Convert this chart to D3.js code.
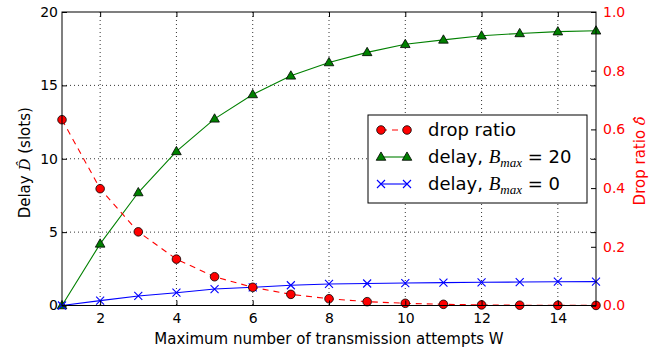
<!DOCTYPE html>
<html>
<head>
<meta charset="utf-8">
<script src="https://cdn.jsdelivr.net/npm/d3@7"></script>
<style>
  html, body { margin: 0; padding: 0; background: #fff; }
  svg { display: block; font-family: "DejaVu Sans", sans-serif; }
</style>
</head>
<body>
<svg id="chart" width="661" height="353"></svg>
<script>
// Maximum number of transmission attempts W
const attempts = [1, 2, 3, 4, 5, 6, 7, 8, 9, 10, 11, 12, 13, 14, 15];
// Drop ratio (right axis)
const dropRatio = [0.633, 0.398, 0.251, 0.158, 0.098, 0.062, 0.038, 0.023, 0.013, 0.0075, 0.004, 0.002, 0.001, 0.0005, 0.0003];
// Delay in slots with B_max = 20 (left axis)
const delayB20 = [0, 4.2, 7.7, 10.5, 12.72, 14.38, 15.65, 16.56, 17.25, 17.8, 18.1, 18.38, 18.54, 18.66, 18.72];
// Delay in slots with B_max = 0 (left axis)
const delayB0 = [0, 0.33, 0.65, 0.87, 1.12, 1.24, 1.38, 1.47, 1.5, 1.53, 1.56, 1.58, 1.6, 1.62, 1.63];

const xTicks = [2, 4, 6, 8, 10, 12, 14];
const leftTicks = [0, 5, 10, 15, 20];
const rightTicks = [0.0, 0.2, 0.4, 0.6, 0.8, 1.0];

const svg = d3.select("#chart");
const m = { left: 62, top: 12, right: 596, bottom: 305.5 };

const x = d3.scaleLinear().domain([1, 15]).range([m.left, m.right]);
const yL = d3.scaleLinear().domain([0, 20]).range([m.bottom, m.top]);
const yR = d3.scaleLinear().domain([0, 1]).range([m.bottom, m.top]);

const tickFont = 14;
const tickLen = 5;
const mathFont = "DejaVu Serif, serif";

// Grid (dotted), vertical at x ticks and horizontal at left-axis ticks
const grid = svg.append("g").attr("stroke", "#000").attr("stroke-width", 0.8)
  .attr("stroke-dasharray", "1,3");
grid.selectAll("line.v").data(xTicks).join("line")
  .attr("x1", d => x(d)).attr("x2", d => x(d))
  .attr("y1", m.top).attr("y2", m.bottom);
grid.selectAll("line.h").data(leftTicks.filter(d => d > 0 && d < 20)).join("line")
  .attr("x1", m.left).attr("x2", m.right)
  .attr("y1", d => yL(d)).attr("y2", d => yL(d));

// Series lines
const lineL = d3.line().x((d, i) => x(attempts[i])).y(d => yL(d));
const lineR = d3.line().x((d, i) => x(attempts[i])).y(d => yR(d));

svg.append("path").datum(delayB20).attr("d", lineL)
  .attr("fill", "none").attr("stroke", "#008000").attr("stroke-width", 1.1);
svg.append("path").datum(delayB0).attr("d", lineL)
  .attr("fill", "none").attr("stroke", "#0000ff").attr("stroke-width", 1.1);

// Markers for delay, B_max = 20 (triangles)
const tri = d3.symbol().type(d3.symbolTriangle).size(40);
svg.append("g").selectAll("path").data(delayB20).join("path")
  .attr("d", tri)
  .attr("transform", (d, i) => `translate(${x(attempts[i])},${yL(d) + 0.5})`)
  .attr("fill", "#008000").attr("stroke", "#000").attr("stroke-width", 0.8);

// Markers for delay, B_max = 0 (crosses)
const cross = (g, cx, cy, r) => g.append("path")
  .attr("d", `M${cx - r},${cy - r}L${cx + r},${cy + r}M${cx - r},${cy + r}L${cx + r},${cy - r}`)
  .attr("stroke", "#0000ff").attr("stroke-width", 1.1).attr("fill", "none");
const gx = svg.append("g");
delayB0.forEach((d, i) => cross(gx, x(attempts[i]), yL(d), 4));

// Drop ratio (dashed red line with circles)
svg.append("path").datum(dropRatio).attr("d", lineR)
  .attr("fill", "none").attr("stroke", "#ff0000").attr("stroke-width", 1.1)
  .attr("stroke-dasharray", "6,5");
svg.append("g").selectAll("circle").data(dropRatio).join("circle")
  .attr("cx", (d, i) => x(attempts[i])).attr("cy", d => yR(d)).attr("r", 4.3)
  .attr("fill", "#ff0000").attr("stroke", "#000").attr("stroke-width", 0.8);

// Frame
svg.append("rect").attr("x", m.left).attr("y", m.top)
  .attr("width", m.right - m.left).attr("height", m.bottom - m.top)
  .attr("fill", "none").attr("stroke", "#000").attr("stroke-width", 1);

// Axes (ticks drawn inward, classic style)
const axB = d3.axisBottom(x).tickValues(xTicks).tickSize(-tickLen).tickPadding(8).tickFormat(d3.format("d"));
const axT = d3.axisTop(x).tickValues(xTicks).tickSize(-tickLen).tickFormat("");
const axL = d3.axisLeft(yL).tickValues(leftTicks).tickSize(-tickLen).tickPadding(4).tickFormat(d3.format("d"));
const axLr = d3.axisRight(yL).tickValues(leftTicks).tickSize(-tickLen).tickFormat("");
const axR = d3.axisRight(yR).tickValues(rightTicks).tickSize(-tickLen).tickPadding(7).tickFormat(d3.format(".1f"));

function style(g, color) {
  g.select(".domain").remove();
  g.selectAll(".tick line").attr("stroke", "#000");
  g.selectAll(".tick text").attr("fill", color).attr("font-size", tickFont)
    .attr("font-family", "DejaVu Sans, sans-serif");
}
svg.append("g").attr("transform", `translate(0,${m.bottom})`).call(axB).call(g => style(g, "#000"));
svg.append("g").attr("transform", `translate(0,${m.top})`).call(axT).call(g => style(g, "#000"));
svg.append("g").attr("transform", `translate(${m.left},0)`).call(axL).call(g => style(g, "#000"));
svg.append("g").attr("transform", `translate(${m.right},0)`).call(axLr).call(g => style(g, "#000"));
svg.append("g").attr("transform", `translate(${m.right},0)`).call(axR).call(g => style(g, "#ff0000"));

// Axis titles
svg.append("text").attr("x", (m.left + m.right) / 2).attr("y", 344)
  .attr("text-anchor", "middle").attr("font-size", 15)
  .text("Maximum number of transmission attempts W");

const yLab = svg.append("text").attr("transform", `translate(30,${(m.top + m.bottom) / 2 + 4}) rotate(-90)`)
  .attr("text-anchor", "middle").attr("font-size", 15);
yLab.append("tspan").text("Delay ");
yLab.append("tspan").attr("font-family", mathFont).attr("font-style", "italic")
  .attr("font-size", 15).text("D\u0302");
yLab.append("tspan").text(" (slots)");

const rLab = svg.append("text").attr("transform", `translate(645,${(m.top + m.bottom) / 2 + 2}) rotate(-90)`)
  .attr("text-anchor", "middle").attr("font-size", 15).attr("fill", "#ff0000");
rLab.append("tspan").text("Drop ratio ");
rLab.append("tspan").attr("font-family", mathFont).attr("font-style", "italic")
  .attr("font-size", 15).text("\u03B4\u0302");

// Legend
const lg = svg.append("g");
lg.append("rect").attr("x", 368).attr("y", 115).attr("width", 219).attr("height", 88)
  .attr("fill", "#fff").attr("stroke", "#000").attr("stroke-width", 1);

const legendItems = [
  { label: "drop ratio", kind: "circle", color: "#ff0000", dash: "6,5" },
  { label: "delay, ", sub: "20", kind: "tri", color: "#008000" },
  { label: "delay, ", sub: "0", kind: "cross", color: "#0000ff" }
];
const rowY = [130, 157, 184];
const lx1 = 381, lx2 = 407;
legendItems.forEach((it, i) => {
  const cy = rowY[i];
  const g = lg.append("g");
  g.append("line").attr("x1", lx1).attr("x2", lx2).attr("y1", cy).attr("y2", cy)
    .attr("stroke", it.color).attr("stroke-width", 1.1)
    .attr("stroke-dasharray", it.dash || null);
  [lx1, lx2].forEach(px => {
    if (it.kind === "circle") {
      g.append("circle").attr("cx", px).attr("cy", cy).attr("r", 4.3)
        .attr("fill", it.color).attr("stroke", "#000").attr("stroke-width", 0.8);
    } else if (it.kind === "tri") {
      g.append("path").attr("d", tri).attr("transform", `translate(${px},${cy + 0.5})`)
        .attr("fill", it.color).attr("stroke", "#000").attr("stroke-width", 0.8);
    } else {
      cross(g, px, cy, 4);
    }
  });
  const t = g.append("text").attr("x", 428).attr("y", cy + 6).attr("font-size", 18);
  t.append("tspan").text(it.label);
  if (it.sub !== undefined) {
    t.append("tspan").attr("font-family", "Liberation Serif, serif").attr("font-style", "italic")
      .attr("font-size", 19).text("B");
    t.append("tspan").attr("font-family", "Liberation Serif, serif").attr("font-style", "italic")
      .attr("font-size", 13).attr("dy", 4).text("max");
    t.append("tspan").attr("dy", -4).text(" = " + it.sub);
  }
});
</script>
</body>
</html>
